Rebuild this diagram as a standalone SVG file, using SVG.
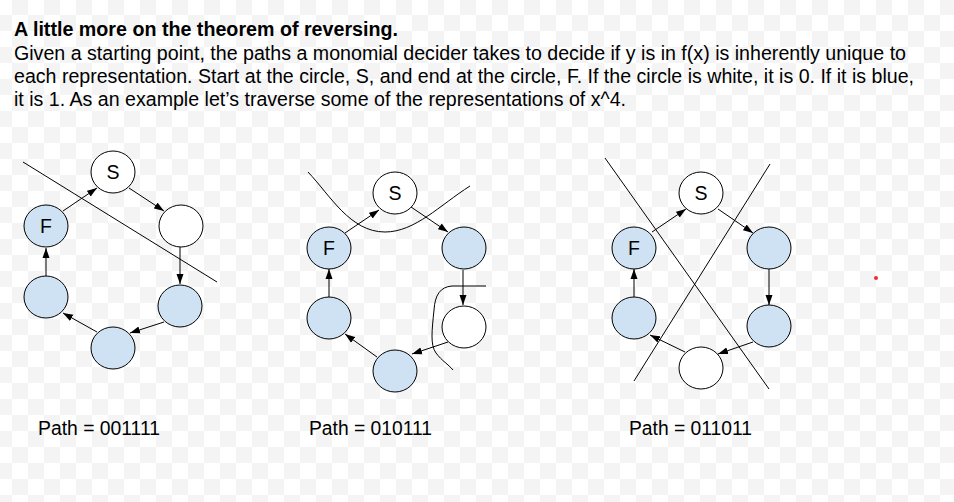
<svg xmlns="http://www.w3.org/2000/svg" width="954" height="502" viewBox="0 0 954 502">
<style>
.t{font-family:"Liberation Sans",Arial,sans-serif;font-size:19.5px;fill:#000}
.b{font-weight:bold}
.lbl{font-family:"Liberation Sans",Arial,sans-serif;font-size:19.5px;fill:#000;text-anchor:middle}
.n0{fill:#fff;stroke:#000;stroke-width:1}
.n1{fill:#cfe2f3;stroke:#000;stroke-width:1}
.c{stroke:#000;stroke-width:1;fill:none;marker-end:url(#ah)}
.cut{stroke:#000;stroke-width:1;fill:none}
</style>
<defs>
<pattern id="chk" x="12" y="15" width="32" height="32" patternUnits="userSpaceOnUse">
<rect width="32" height="32" fill="#fff"/>
<rect x="16" y="0" width="16" height="16" fill="#f4f4f4"/>
<rect x="0" y="16" width="16" height="16" fill="#f4f4f4"/>
</pattern>
<marker id="ah" markerWidth="11" markerHeight="8" refX="10" refY="4" orient="auto" markerUnits="userSpaceOnUse">
<path d="M0,0.5 L10,4 L0,7.5 z" fill="#000"/>
</marker>
</defs>
<rect width="954" height="502" fill="url(#chk)"/>

<g id="heading">
<text class="t b" x="14" y="35.5" textLength="384" lengthAdjust="spacingAndGlyphs">A little more on the theorem of reversing.</text>
<text class="t" x="14" y="59.5" textLength="892" lengthAdjust="spacingAndGlyphs">Given a starting point, the paths a monomial decider takes to decide if y is in f(x) is inherently unique to</text>
<text class="t" x="14" y="82.5" textLength="900" lengthAdjust="spacingAndGlyphs">each representation. Start at the circle, S, and end at the circle, F. If the circle is white, it is 0. If it is blue,</text>
<text class="t" x="14" y="106" textLength="612" lengthAdjust="spacingAndGlyphs">it is 1. As an example let’s traverse some of the representations of x^4.</text>
</g>

<!-- Diagram 1 -->
<g id="d1-S"><ellipse class="n0" cx="113" cy="172" rx="22" ry="21"/><text class="lbl" x="113" y="179">S</text></g>
<g id="d1-n2"><ellipse class="n0" cx="181" cy="226" rx="22" ry="21"/></g>
<g id="d1-n3"><ellipse class="n1" cx="180" cy="306" rx="22" ry="21"/></g>
<g id="d1-n4"><ellipse class="n1" cx="113" cy="348" rx="22" ry="21"/></g>
<g id="d1-n5"><ellipse class="n1" cx="46" cy="297" rx="22" ry="21"/></g>
<g id="d1-F"><ellipse class="n1" cx="46" cy="226" rx="22" ry="21"/><text class="lbl" x="46" y="233">F</text></g>

<!-- Diagram 2 -->
<g id="d2-S"><ellipse class="n0" cx="395" cy="193" rx="22" ry="21"/><text class="lbl" x="395" y="200">S</text></g>
<g id="d2-n2"><ellipse class="n1" cx="464" cy="248" rx="22" ry="21"/></g>
<g id="d2-n3"><ellipse class="n0" cx="464" cy="327" rx="22" ry="21"/></g>
<g id="d2-n4"><ellipse class="n1" cx="395" cy="371" rx="22" ry="21"/></g>
<g id="d2-n5"><ellipse class="n1" cx="329" cy="318" rx="22" ry="21"/></g>
<g id="d2-F"><ellipse class="n1" cx="329" cy="248" rx="22" ry="21"/><text class="lbl" x="329" y="255">F</text></g>

<!-- Diagram 3 -->
<g id="d3-S"><ellipse class="n0" cx="701" cy="193" rx="22" ry="21"/><text class="lbl" x="701" y="200">S</text></g>
<g id="d3-n2"><ellipse class="n1" cx="769" cy="248" rx="22" ry="21"/></g>
<g id="d3-n3"><ellipse class="n1" cx="769" cy="326" rx="22" ry="21"/></g>
<g id="d3-n4"><ellipse class="n0" cx="701" cy="368" rx="22" ry="21"/></g>
<g id="d3-n5"><ellipse class="n1" cx="634" cy="318" rx="22" ry="21"/></g>
<g id="d3-F"><ellipse class="n1" cx="634" cy="248" rx="22" ry="21"/><text class="lbl" x="634" y="255">F</text></g>

<g id="connectors">
<!-- d1 -->
<line class="c" x1="63" y1="211" x2="97" y2="188"/>
<line class="c" x1="129" y1="188" x2="164" y2="211"/>
<line class="c" x1="180" y1="247" x2="180" y2="284"/>
<line class="c" x1="164" y1="322" x2="130" y2="333"/>
<line class="c" x1="97" y1="332" x2="63" y2="313"/>
<line class="c" x1="46" y1="276" x2="46" y2="248"/>
<!-- d2 -->
<line class="c" x1="345" y1="233" x2="379" y2="210"/>
<line class="c" x1="411" y1="207" x2="448" y2="232"/>
<line class="c" x1="463" y1="270" x2="463" y2="305"/>
<line class="c" x1="448" y1="342" x2="412" y2="354"/>
<line class="c" x1="377" y1="357" x2="345" y2="334"/>
<line class="c" x1="329" y1="297" x2="329" y2="269"/>
<!-- d3 -->
<line class="c" x1="652" y1="232" x2="686" y2="209"/>
<line class="c" x1="718" y1="209" x2="753" y2="233"/>
<line class="c" x1="769" y1="269" x2="769" y2="305"/>
<line class="c" x1="753" y1="342" x2="718" y2="354"/>
<line class="c" x1="685" y1="352" x2="650" y2="335"/>
<line class="c" x1="634" y1="297" x2="634" y2="269"/>
</g>

<g id="cuts">
<line class="cut" x1="23" y1="162" x2="217" y2="282"/>
<path class="cut" d="M308,172 C330,195 350,232 385,232 C415,232 440,205 470,186"/>
<path class="cut" d="M486,286 L452,286 C440,287 435,295 434,310 C432,330 430,345 436,353 C442,361 448,364 453,370"/>
<line class="cut" x1="605" y1="158" x2="769" y2="389"/>
<line class="cut" x1="770" y1="164" x2="634" y2="381"/>
</g>

<g id="paths">
<text class="t" x="38" y="434.5" textLength="122" lengthAdjust="spacingAndGlyphs">Path = 001111</text>
<text class="t" x="309" y="434.5" textLength="123" lengthAdjust="spacingAndGlyphs">Path = 010111</text>
<text class="t" x="629" y="434.5" textLength="123" lengthAdjust="spacingAndGlyphs">Path = 011011</text>
</g>

<circle id="dot" cx="876" cy="278" r="2" fill="#e8312f"/>
</svg>
